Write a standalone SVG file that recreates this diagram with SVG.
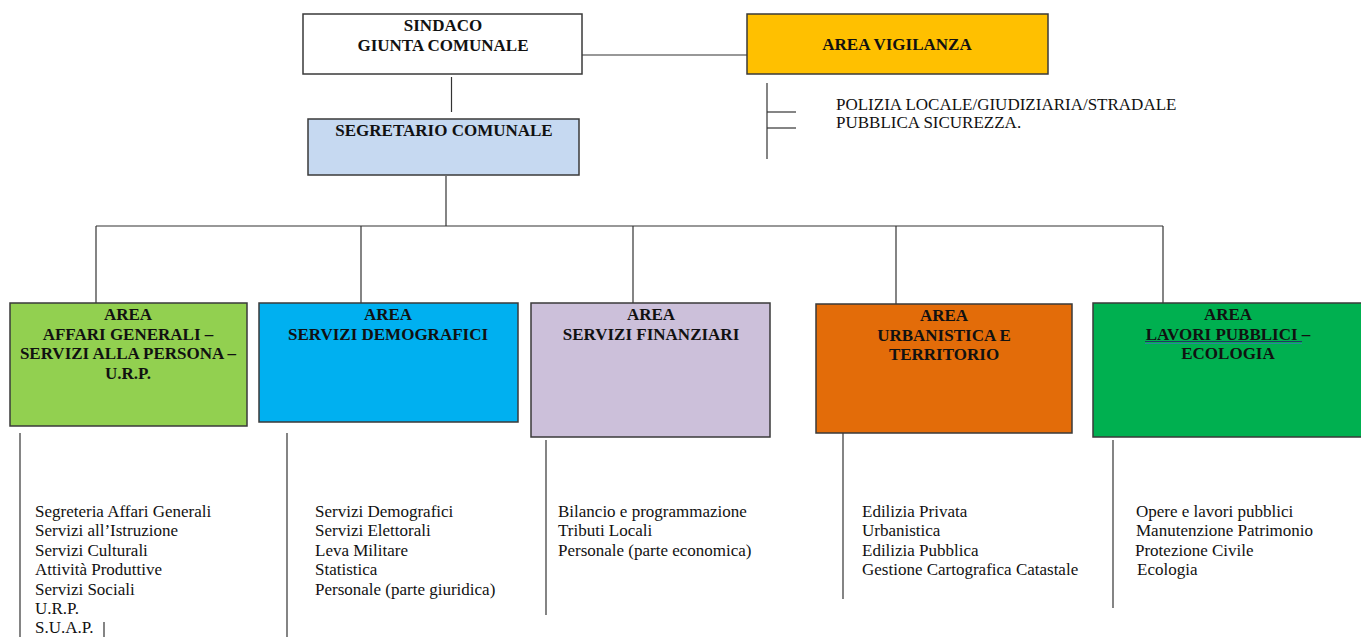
<svg xmlns="http://www.w3.org/2000/svg" width="1361" height="637" viewBox="0 0 1361 637">
<style>
.box{stroke:#3a3a3a;stroke-width:1.5}
.h{font-family:"Liberation Serif","Times New Roman",serif;font-weight:bold;font-size:17px;fill:#111;text-anchor:middle}
.t{font-family:"Liberation Serif","Times New Roman",serif;font-size:17px;fill:#111}
.ln{stroke:#333;stroke-width:1.2;fill:none}
</style>
<rect width="1361" height="637" fill="#fff"/>
<g id="connectors">
<line class="ln" x1="577" y1="55" x2="747" y2="55"/>
<line class="ln" x1="451.5" y1="77" x2="451.5" y2="112"/>
<line class="ln" x1="446" y1="176" x2="446" y2="226"/>
<line class="ln" x1="96" y1="226" x2="1163" y2="226"/>
<line class="ln" x1="96" y1="226" x2="96" y2="303"/>
<line class="ln" x1="361" y1="226" x2="361" y2="303"/>
<line class="ln" x1="633" y1="226" x2="633" y2="303"/>
<line class="ln" x1="896" y1="226" x2="896" y2="304"/>
<line class="ln" x1="1163" y1="226" x2="1163" y2="303"/>
<line class="ln" x1="767" y1="83" x2="767" y2="159"/>
<line class="ln" x1="767" y1="112" x2="796" y2="112"/>
<line class="ln" x1="767" y1="128" x2="796" y2="128"/>
<line class="ln" x1="20" y1="433" x2="20" y2="637"/>
<line class="ln" x1="287" y1="433" x2="287" y2="637"/>
<line class="ln" x1="546" y1="440" x2="546" y2="615"/>
<line class="ln" x1="843" y1="433" x2="843" y2="599"/>
<line class="ln" x1="1113" y1="440" x2="1113" y2="608"/>
</g>
<g id="sindaco">
<rect class="box" x="303" y="14" width="279" height="60" fill="#fff"/>
<text class="h" x="443" y="31">SINDACO</text>
<text class="h" x="443" y="51">GIUNTA COMUNALE</text>
</g>
<g id="vigilanza">
<rect class="box" x="747" y="14" width="301" height="60" fill="#FFC000"/>
<text class="h" x="897" y="50">AREA VIGILANZA</text>
<text class="t" x="836" y="110">POLIZIA LOCALE/GIUDIZIARIA/STRADALE</text>
<text class="t" x="836" y="128">PUBBLICA SICUREZZA.</text>
</g>
<g id="segretario">
<rect class="box" x="308" y="119" width="271" height="56" fill="#C6D9F1"/>
<text class="h" x="444" y="136">SEGRETARIO COMUNALE</text>
</g>
<g id="area-affari-generali">
<rect class="box" x="10" y="303" width="237" height="123" fill="#92D050"/>
<text class="h" x="128" y="320">AREA</text>
<text class="h" x="128" y="339.5">AFFARI GENERALI –</text>
<text class="h" x="128" y="359">SERVIZI ALLA PERSONA –</text>
<text class="h" x="128" y="378.5">U.R.P.</text>
<text class="t" x="35" y="517">Segreteria Affari Generali</text>
<text class="t" x="35" y="536.4">Servizi all’Istruzione</text>
<text class="t" x="35" y="555.8">Servizi Culturali</text>
<text class="t" x="35" y="575.2">Attività Produttive</text>
<text class="t" x="35" y="594.6">Servizi Sociali</text>
<text class="t" x="35" y="614">U.R.P.</text>
<text class="t" x="35" y="633">S.U.A.P.</text>
<line class="ln" x1="104" y1="622" x2="104" y2="637"/>
</g>
<g id="area-servizi-demografici">
<rect class="box" x="259" y="303" width="259" height="119" fill="#00B0F0"/>
<text class="h" x="388" y="320">AREA</text>
<text class="h" x="388" y="339.5">SERVIZI DEMOGRAFICI</text>
<text class="t" x="315" y="517">Servizi Demografici</text>
<text class="t" x="315" y="536.4">Servizi Elettorali</text>
<text class="t" x="315" y="555.8">Leva Militare</text>
<text class="t" x="315" y="575.2">Statistica</text>
<text class="t" x="315" y="594.6">Personale (parte giuridica)</text>
</g>
<g id="area-servizi-finanziari">
<rect class="box" x="531" y="303" width="239" height="134" fill="#CCC0DA"/>
<text class="h" x="651" y="320">AREA</text>
<text class="h" x="651" y="339.5">SERVIZI FINANZIARI</text>
<text class="t" x="558" y="517">Bilancio e programmazione</text>
<text class="t" x="558" y="536.4">Tributi Locali</text>
<text class="t" x="558" y="555.8">Personale (parte economica)</text>
</g>
<g id="area-urbanistica">
<rect class="box" x="816" y="304" width="256" height="129" fill="#E36C09"/>
<text class="h" x="944" y="321">AREA</text>
<text class="h" x="944" y="340.5">URBANISTICA E</text>
<text class="h" x="944" y="360">TERRITORIO</text>
<text class="t" x="862" y="517">Edilizia Privata</text>
<text class="t" x="862" y="536.4">Urbanistica</text>
<text class="t" x="862" y="555.8">Edilizia Pubblica</text>
<text class="t" x="862" y="575.2">Gestione Cartografica Catastale</text>
</g>
<g id="area-lavori-pubblici">
<rect class="box" x="1093" y="303" width="270" height="134" fill="#00B050"/>
<text class="h" x="1228" y="320">AREA</text>
<text class="h" x="1228" y="339.5">LAVORI  PUBBLICI –</text>
<line x1="1145" y1="341.5" x2="1302" y2="341.5" stroke="#1F3864" stroke-width="1.2"/>
<line x1="1145" y1="343.5" x2="1302" y2="343.5" stroke="#31849B" stroke-width="1.2"/>
<text class="h" x="1228" y="359">ECOLOGIA</text>
<text class="t" x="1136" y="517">Opere e lavori pubblici</text>
<text class="t" x="1136" y="536.4">Manutenzione Patrimonio</text>
<text class="t" x="1135" y="555.8">Protezione Civile</text>
<text class="t" x="1137" y="575.2">Ecologia</text>
</g>
</svg>
